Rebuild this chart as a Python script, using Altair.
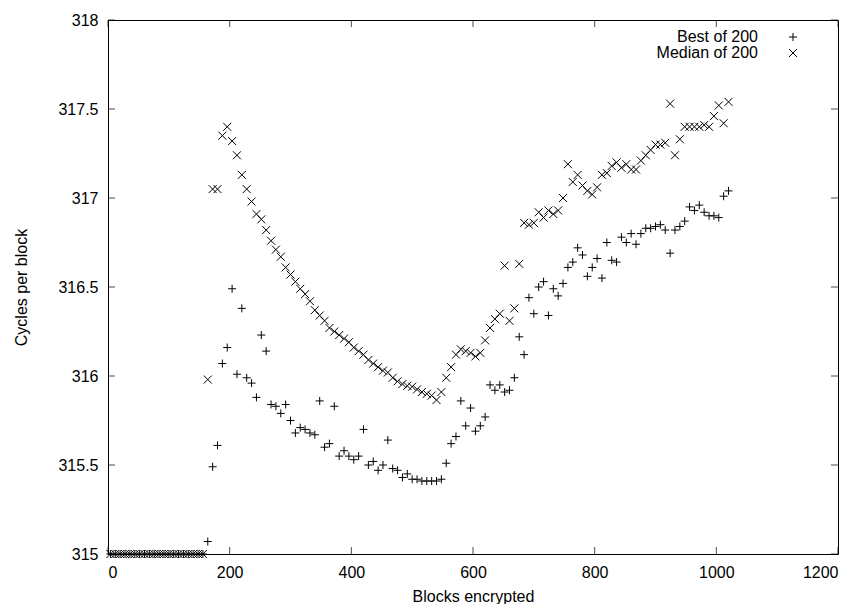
import altair as alt
import pandas as pd

blocks = list(range(4, 1024, 8))

best = [315.0] * 20 + [
    315.07, 315.49, 315.61, 316.07, 316.16, 316.49, 316.01, 316.38, 315.99, 315.96,
    315.88, 316.23, 316.14, 315.84, 315.83, 315.79, 315.84, 315.75, 315.68, 315.71,
    315.70, 315.68, 315.67, 315.86, 315.60, 315.62, 315.83, 315.55, 315.58, 315.55,
    315.53, 315.55, 315.70, 315.50, 315.52, 315.47, 315.50, 315.64, 315.48, 315.47,
    315.43, 315.45, 315.42, 315.42, 315.41, 315.41, 315.41, 315.41, 315.42, 315.51,
    315.62, 315.66, 315.86, 315.72, 315.82, 315.69, 315.72, 315.77, 315.95, 315.92,
    315.95, 315.91, 315.92, 315.99, 316.22, 316.12, 316.44, 316.35, 316.50, 316.53,
    316.34, 316.49, 316.45, 316.52, 316.61, 316.64, 316.72, 316.68, 316.56, 316.61,
    316.66, 316.55, 316.75, 316.65, 316.64, 316.78, 316.75, 316.80, 316.74, 316.80,
    316.83, 316.83, 316.84, 316.85, 316.82, 316.69, 316.82, 316.84, 316.87, 316.95,
    316.93, 316.96, 316.92, 316.90, 316.90, 316.89, 317.01, 317.04,
]

median = [315.0] * 20 + [
    315.98, 317.05, 317.05, 317.35, 317.40, 317.32, 317.24, 317.13, 317.05, 316.98,
    316.91, 316.88, 316.82, 316.76, 316.71, 316.67, 316.61, 316.57, 316.53, 316.49,
    316.46, 316.42, 316.37, 316.34, 316.31, 316.27, 316.25, 316.23, 316.21, 316.19,
    316.16, 316.14, 316.12, 316.09, 316.07, 316.05, 316.03, 316.02, 315.99, 315.97,
    315.955, 315.945, 315.94, 315.925, 315.91, 315.90, 315.89, 315.865, 315.91, 315.99,
    316.05, 316.12, 316.15, 316.14, 316.13, 316.11, 316.13, 316.20, 316.27, 316.32,
    316.35, 316.62, 316.31, 316.38, 316.63, 316.86, 316.85, 316.86, 316.92, 316.89,
    316.93, 316.91, 316.93, 317.00, 317.19, 317.09, 317.13, 317.07, 317.04, 317.02,
    317.06, 317.13, 317.14, 317.18, 317.20, 317.17, 317.19, 317.16, 317.16, 317.21,
    317.24, 317.27, 317.30, 317.30, 317.31, 317.53, 317.24, 317.33, 317.40, 317.40,
    317.40, 317.40, 317.41, 317.40, 317.46, 317.52, 317.42, 317.54,
]

series_names = ["Best of 200", "Median of 200"]
x_ticks = [0, 200, 400, 600, 800, 1000, 1200]
y_ticks = [315, 315.5, 316, 316.5, 317, 317.5, 318]

df = pd.DataFrame({
    "blocks": blocks + blocks,
    "cycles": best + median,
    "series": [series_names[0]] * len(blocks) + [series_names[1]] * len(blocks),
})
xt = pd.DataFrame({"blocks": x_ticks})
yt = pd.DataFrame({"cycles": y_ticks})

W, H = 730, 534
FONT = "Liberation Sans"
PLUS = "M-1,0L1,0M0,-1L0,1"
CROSS = "M-1,-1L1,1M-1,1L1,-1"

xscale = alt.Scale(domain=[0, 1200], nice=False, zero=False)
yscale = alt.Scale(domain=[315, 318], nice=False, zero=False)

points = alt.Chart(df).mark_point(
    filled=False, size=64, strokeWidth=1, color="black", opacity=1
).encode(
    x=alt.X("blocks:Q", scale=xscale,
            axis=alt.Axis(values=x_ticks, ticks=False, domain=False, grid=False,
                          format="d", labelPadding=10, title="Blocks encrypted",
                          titlePadding=8)),
    y=alt.Y("cycles:Q", scale=yscale,
            axis=alt.Axis(values=y_ticks, ticks=False, domain=False, grid=False,
                          format="~g", labelPadding=10, title="Cycles per block",
                          titlePadding=28)),
    shape=alt.Shape("series:N",
                    scale=alt.Scale(domain=series_names, range=[PLUS, CROSS]),
                    legend=alt.Legend(title=None, orient="none", legendX=677, legendY=9,
                                      padding=0, labelAlign="right",
                                      labelOffset={"expr": "-43"},
                                      symbolSize=64, symbolStrokeColor="black",
                                      symbolStrokeWidth=1, labelFontSize=16,
                                      labelFont=FONT, labelColor="black", rowPadding=0)),
)

tick_len = 7
xb = alt.Chart(xt).mark_tick(orient="vertical", size=tick_len, thickness=1, color="black").encode(
    x=alt.X("blocks:Q", scale=xscale), y=alt.value(H - tick_len / 2))
xtop = alt.Chart(xt).mark_tick(orient="vertical", size=tick_len, thickness=1, color="black").encode(
    x=alt.X("blocks:Q", scale=xscale), y=alt.value(tick_len / 2))
yl = alt.Chart(yt).mark_tick(orient="horizontal", size=tick_len, thickness=1, color="black").encode(
    y=alt.Y("cycles:Q", scale=yscale), x=alt.value(tick_len / 2))
yr = alt.Chart(yt).mark_tick(orient="horizontal", size=tick_len, thickness=1, color="black").encode(
    y=alt.Y("cycles:Q", scale=yscale), x=alt.value(W - tick_len / 2))

chart = alt.layer(points, xb, xtop, yl, yr).properties(
    width=W, height=H,
    padding={"left": 100, "top": 12, "right": 13, "bottom": 50},
    autosize=alt.AutoSizeParams(type="none"),
).configure_view(
    stroke="black", strokeWidth=1
).configure_axis(
    labelFont=FONT, labelFontSize=16, labelColor="black",
    titleFont=FONT, titleFontSize=16, titleFontWeight="normal", titleColor="black",
)

chart.save("out.html", embed_options={"renderer": "svg", "actions": False})
